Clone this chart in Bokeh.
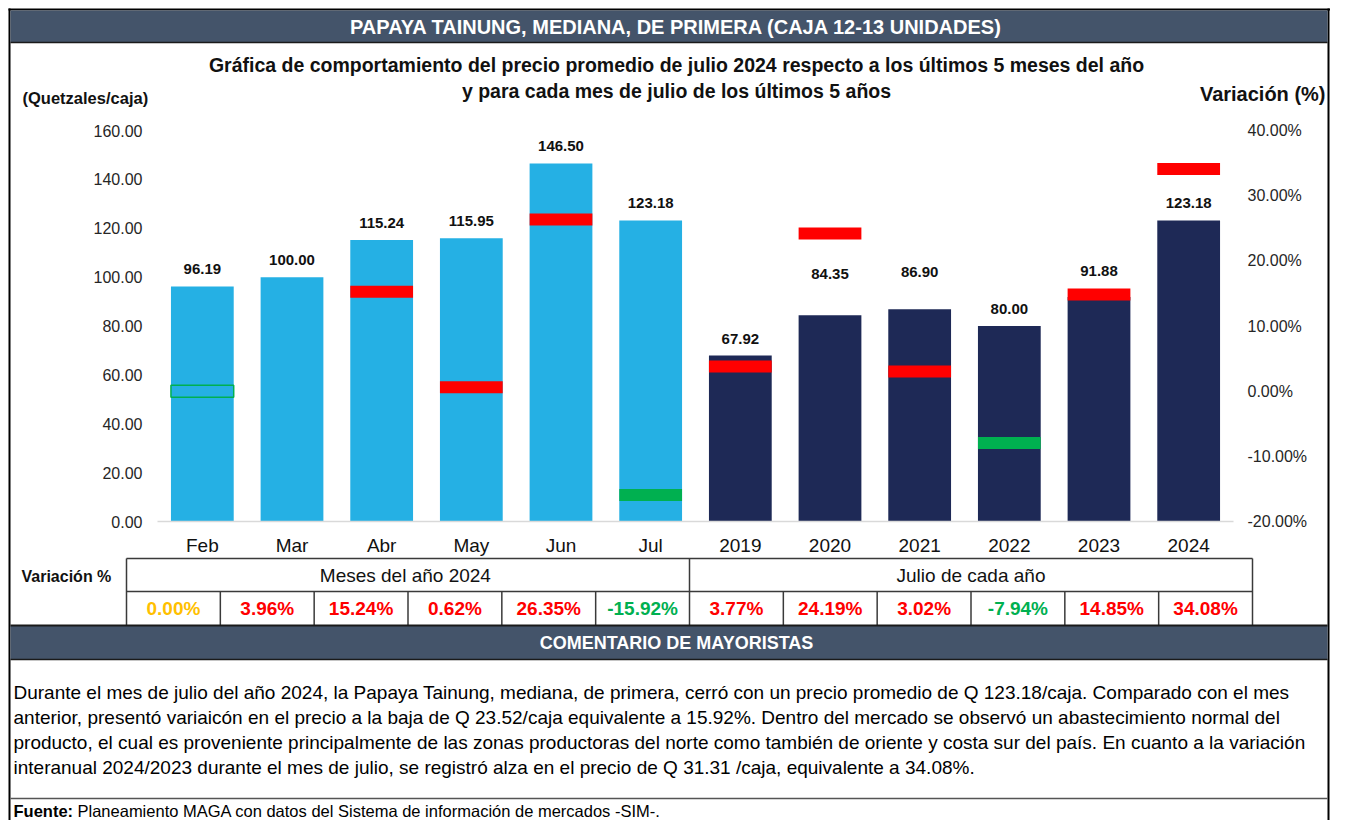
from bokeh.plotting import figure
from bokeh.models import ColumnDataSource, Range1d
from bokeh.core.properties import value
from bokeh.embed import file_html
from bokeh.resources import INLINE

# ---------------- data ----------------
categories = ["Feb", "Mar", "Abr", "May", "Jun", "Jul",
              "2019", "2020", "2021", "2022", "2023", "2024"]
prices = [96.19, 100.00, 115.24, 115.95, 146.50, 123.18,
          67.92, 84.35, 86.90, 80.00, 91.88, 123.18]
variation_pct = [0.00, 3.96, 15.24, 0.62, 26.35, -15.92,
                 3.77, 24.19, 3.02, -7.94, 14.85, 34.08]
group_of = ["mes"] * 6 + ["julio"] * 6
group_titles = ["Meses del año  2024", "Julio de cada año"]
left_ticks = [0, 20, 40, 60, 80, 100, 120, 140, 160]
right_ticks = [-20, -10, 0, 10, 20, 30, 40]
markers_hidden = ["Mar"]

title = "PAPAYA TAINUNG, MEDIANA, DE PRIMERA (CAJA 12-13 UNIDADES)"
subtitle = ["Gráfica de comportamiento del precio promedio de julio 2024 respecto a los últimos 5 meses del año",
            "y para cada mes de julio de los últimos 5 años"]
left_title = "(Quetzales/caja)"
right_title = "Variación (%)"
table_title = "Variación %"
band2_title = "COMENTARIO DE MAYORISTAS"
comment_lines = [
    "Durante el mes de julio del año 2024, la Papaya Tainung, mediana, de primera, cerró con un precio promedio de Q 123.18/caja. Comparado con el mes",
    "anterior,  presentó variaicón en el precio a la baja de Q 23.52/caja equivalente a 15.92%. Dentro del mercado se observó un abastecimiento normal del",
    "producto, el cual es proveniente principalmente de las zonas productoras del norte como también de oriente y costa sur del país. En cuanto a la variación",
    "interanual 2024/2023 durante el mes de julio, se registró  alza en el precio de Q 31.31 /caja, equivalente a 34.08%.",
]
source_bold = "Fuente:"
source_text = "Planeamiento MAGA con datos del Sistema de información de mercados -SIM-."

# ---------------- styles ----------------
FONT = "Liberation Sans"
BAR_COLORS = {"mes": "#25B0E4", "julio": "#1E2956"}
RED, GREEN, AMBER = "#FF0000", "#00B050", "#FFC000"
BAND = "#44546A"
LINE = "#3A3A3A"
TXT = "#111111"
label_lift = {"2020": 41, "2021": 37, "2023": 26}   # px above bar top (default 17)

W, H = 1330, 820
FRAME_L, FRAME_R, FRAME_T, FRAME_B = 157, 1233, 130, 521   # chart area in page pixels
n = len(categories)

# whole canvas = pixel coordinates (y downwards)
p = figure(width=W, height=H, x_range=Range1d(0, W), y_range=Range1d(H, 0),
           output_backend="svg", toolbar_location=None, min_border=0,
           x_axis_location=None, y_axis_location=None,
           background_fill_color="white", border_fill_color="white", outline_line_color=None)
p.grid.visible = False

# chart scales mapped onto the chart area
ux = (FRAME_R - FRAME_L) / n
p.extra_x_ranges = {"cat": Range1d(-FRAME_L / ux, n + (W - FRAME_R) / ux)}
lo_p, hi_p = left_ticks[0], left_ticks[-1]
lo_v, hi_v = right_ticks[0], right_ticks[-1]
up = (FRAME_B - FRAME_T) / (hi_p - lo_p)
uv = (FRAME_B - FRAME_T) / (hi_v - lo_v)
p.extra_y_ranges = {
    "price": Range1d(lo_p - (H - FRAME_B) / up, hi_p + FRAME_T / up),
    "pct": Range1d(lo_v - (H - FRAME_B) / uv, hi_v + FRAME_T / uv),
}


def box(x0, y0, x1, y1, color):
    p.quad(left=[x0], right=[x1], top=[y0], bottom=[y1], fill_color=color, line_color=None)


def hline(x0, x1, y, w=1.5, color=LINE):
    box(x0, y - w / 2, x1, y + w / 2, color)


def vline(x, y0, y1, w=1.5, color=LINE):
    box(x - w / 2, y0, x + w / 2, y1, color)


def text(X, Y, s, size, bold=False, color=TXT, align="center", **kw):
    p.text(x=X if isinstance(X, list) else [X], y=Y if isinstance(Y, list) else [Y],
           text=s if isinstance(s, list) else [s],
           text_font=value(FONT), text_font_size=value(f"{size}px"),
           text_font_style="bold" if bold else "normal",
           text_color=color, text_align=align, text_baseline="middle", **kw)


RIGHT = W
# ---------------- frame & header ----------------
vline(9, 8, H, w=2, color="#000000")
vline(RIGHT - 2, 8, H, w=2, color="#000000")
hline(8, RIGHT, 9, w=2, color="#000000")
box(10, 10, RIGHT - 3, 42, BAND)
hline(10, RIGHT - 3, 42, w=1.5, color="#1A1A1A")
text(676, 26, title, 20, bold=True, color="white")
text(676, 64, subtitle[0], 19.5, bold=True)
text(676, 90, subtitle[1], 19.5, bold=True)
text(22, 97, left_title, 16.5, bold=True, align="left")
text(1325, 93, right_title, 20, bold=True, align="right")

# ---------------- chart ----------------
xc = [i + 0.5 for i in range(n)]
src = ColumnDataSource(dict(
    x=xc, price=prices,
    color=[BAR_COLORS[g] for g in group_of],
    lbl=[f"{v:.2f}" for v in prices],
    ly=[v + label_lift.get(c, 17) / up for v, c in zip(prices, categories)],
))
p.vbar(x="x", top="price", bottom=0, width=0.7, fill_color="color", line_color=None,
       source=src, x_range_name="cat", y_range_name="price")
# base line of the category axis
p.segment(x0=[0], x1=[n], y0=[0], y1=[0], line_color="#D9D9D9", line_width=1.5,
          x_range_name="cat", y_range_name="price")
p.text(x="x", y="ly", text="lbl", source=src, x_range_name="cat", y_range_name="price",
       text_font=value(FONT), text_font_size=value("15px"), text_font_style="bold",
       text_color=TXT, text_align="center", text_baseline="middle")

# variation markers on the right scale
mk_x, mk_v, mk_fill, mk_fa, mk_la = [], [], [], [], []
for x, c, v in zip(xc, categories, variation_pct):
    if c in markers_hidden:
        continue
    mk_x.append(x)
    mk_v.append(v)
    if v > 0:
        mk_fill.append(RED); mk_fa.append(1.0); mk_la.append(0.0)
    elif v < 0:
        mk_fill.append(GREEN); mk_fa.append(1.0); mk_la.append(0.0)
    else:
        mk_fill.append(GREEN); mk_fa.append(0.0); mk_la.append(1.0)
msrc = ColumnDataSource(dict(x=mk_x, v=mk_v, fill=mk_fill, fa=mk_fa, la=mk_la))
p.rect(x="x", y="v", width=0.7, height=12, height_units="screen", source=msrc,
       x_range_name="cat", y_range_name="pct",
       fill_color="fill", fill_alpha="fa", line_color=GREEN, line_alpha="la", line_width=1.5)

# axis tick labels
text([FRAME_L - 15] * len(left_ticks), list(left_ticks), [f"{t:.2f}" for t in left_ticks],
     16, color="#262626", align="right", y_range_name="price")
text([FRAME_R + 14] * len(right_ticks), list(right_ticks), [f"{t:.2f}%" for t in right_ticks],
     16, color="#262626", align="left", y_range_name="pct")
text(xc, [545] * n, categories, 19, color=TXT, x_range_name="cat")

# ---------------- variation table ----------------
TX0, TX1 = 126, 1252
TY0, TY1, TY2 = 558, 591, 625
edges = [TX0 + (TX1 - TX0) * i / n for i in range(n + 1)]
hline(TX0, TX1, TY0)
hline(TX0, TX1, TY1)
vline(TX0, TY0, TY2)
vline(TX1, TY0, TY2)
vline(edges[6], TY0, TY2)
for i in range(1, n):
    if i != 6:
        vline(edges[i], TY1, TY2)
text(21, 576, table_title, 16, bold=True, align="left")
text((edges[0] + edges[6]) / 2, 575, group_titles[0], 19)
text((edges[6] + edges[12]) / 2, 575, group_titles[1], 19)
cols = [RED if v > 0 else (GREEN if v < 0 else AMBER) for v in variation_pct]
for i, v in enumerate(variation_pct):
    text((edges[i] + edges[i + 1]) / 2, 608, f"{v:.2f}%", 19, bold=True, color=cols[i])

# ---------------- comment ----------------
box(10, TY2, RIGHT - 3, 659, BAND)
hline(10, RIGHT - 3, TY2, w=2, color="#1A1A1A")
hline(10, RIGHT - 3, 659, w=1.5, color="#1A1A1A")
text(676, 642, band2_title, 18, bold=True, color="white")
for k, line in enumerate(comment_lines):
    text(13, 692 + 25 * k, line, 19, align="left", color="#000000")
hline(10, RIGHT - 3, 798, w=1.5, color="#555555")
text(13, 810, source_bold, 16.5, bold=True, align="left", color="#000000")
text(77, 810, source_text, 16.5, align="left", color="#000000")

open("out.html", "w").write(file_html(p, INLINE))
